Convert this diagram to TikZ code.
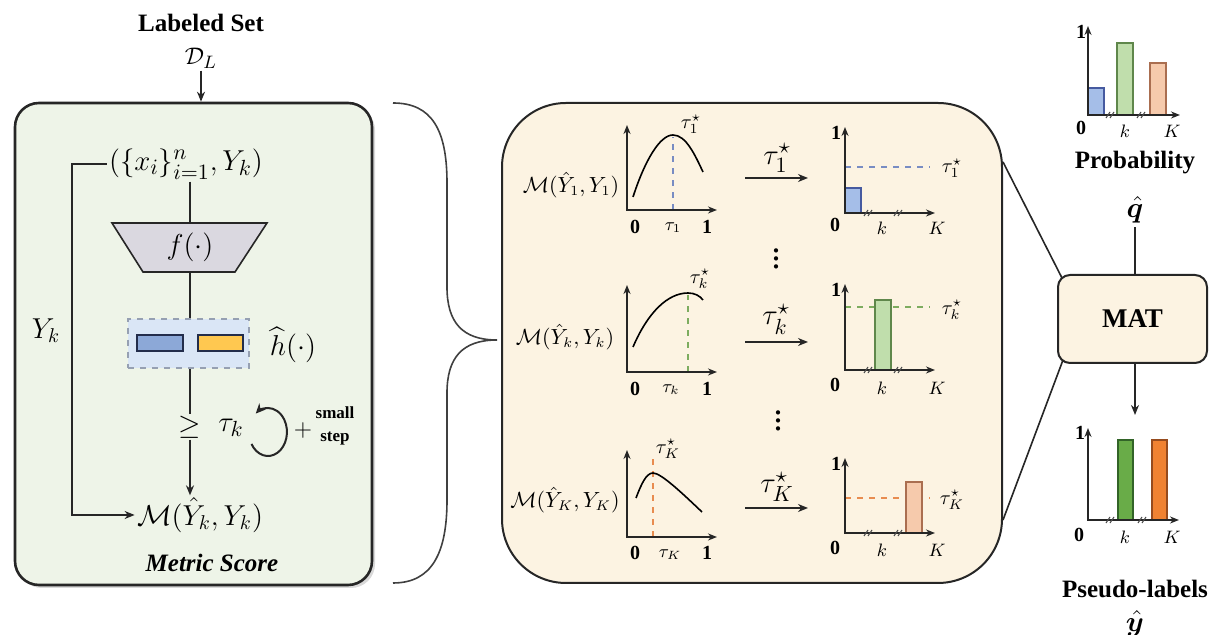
\documentclass[tikz,border=0pt]{standalone}
\usepackage{amsmath,amssymb,bm}
\usepackage{fontspec}
\setmainfont{Liberation Serif}
\usetikzlibrary{arrows.meta,shadows,calc}
\newcommand{\fsz}[1]{\fontsize{#1}{#1}\selectfont}
\definecolor{lgreen}{RGB}{238,244,232}
\definecolor{cream}{RGB}{252,243,226}
\definecolor{tgray}{RGB}{218,216,224}
\definecolor{hbfill}{RGB}{218,230,246}
\definecolor{hbdash}{RGB}{150,160,178}
\definecolor{navy}{RGB}{35,45,75}
\definecolor{rblue}{RGB}{140,168,215}
\definecolor{ryell}{RGB}{255,200,80}
\definecolor{bblue}{RGB}{165,190,232}
\definecolor{bbdk}{RGB}{70,90,160}
\definecolor{bgreen}{RGB}{192,222,172}
\definecolor{bgdk}{RGB}{95,135,75}
\definecolor{borng}{RGB}{246,202,172}
\definecolor{bodk}{RGB}{170,110,80}
\definecolor{dgreen}{RGB}{105,172,72}
\definecolor{dgdk}{RGB}{50,100,40}
\definecolor{dorng}{RGB}{240,130,50}
\definecolor{dodk}{RGB}{150,75,30}
\definecolor{dsh1}{RGB}{120,140,195}
\definecolor{dsh2}{RGB}{125,172,95}
\definecolor{dsh3}{RGB}{232,140,80}
\begin{document}
\begin{tikzpicture}[x=0.5pt,y=-0.5pt,
  conn/.style={line width=0.8pt, draw=black!85},
  arr/.style={conn, -{Stealth[length=5pt,width=4pt]}},
  axs/.style={line width=0.9pt, draw=black!85, {Stealth[length=4.5pt,width=3.5pt]}-{Stealth[length=4.5pt,width=3.5pt]}},
  title/.style={font=\fsz{12.5}\bfseries, inner sep=0pt},
  tkl/.style={font=\fsz{10}\bfseries, inner sep=0.5pt},
  kl/.style={font=\fsz{9}, inner sep=0.5pt},
  mlab/.style={font=\fsz{10.5}, inner sep=0.5pt},
  bigm/.style={font=\fsz{14}, inner sep=1pt},
  barst/.style={line width=0.7pt},
  dsh/.style={dashed, line width=0.7pt},
  brk/.pic={\draw[line width=0.5pt, black!70] (-4,3)--(0,-3) (0,3)--(4,-3);}
]
\useasboundingbox (0,0) rectangle (1217,635);

% ---------- left: labeled set ----------
\node[title] (lab) at (201,23) {Labeled Set};
\node[font=\fsz{13}, inner sep=1pt] (DL) at (201,58) {$\mathcal{D}_L$};
\node[draw=black!85, line width=1.3pt, fill=lgreen, rounded corners=12pt,
      minimum width=178.5pt, minimum height=241pt, inner sep=0,
      drop shadow={opacity=0.3, shadow xshift=1.5pt, shadow yshift=-1.5pt}] (LB) at (193.5,344) {};
\draw[arr] (DL.south) -- (DL.south |- LB.north);

\node[font=\fsz{15}, inner sep=1pt] (in) at (186,164) {$(\{x_i\}_{i=1}^{n},Y_k)$};
\coordinate (ft) at (190,223);
\coordinate (fb) at (190,272);
\draw[conn, fill=tgray] (112,223) -- (267,223) -- (235,272) -- (143,272) -- cycle;
\node[bigm] (f) at (190,247) {$f(\cdot)$};
\draw[conn] (in.south -| ft) -- (ft);

\node[draw=hbdash, dashed, line width=0.8pt, fill=hbfill, minimum width=60.5pt, minimum height=24.5pt, inner sep=0] (hbox) at (188.5,343.5) {};
\draw[conn] (fb) -- (fb |- hbox.north);
\node[draw=navy, fill=rblue, line width=0.9pt, minimum width=23pt, minimum height=8pt, inner sep=0] (hb1) at (160,343) {};
\node[draw=navy, fill=ryell, line width=0.9pt, minimum width=22.5pt, minimum height=8pt, inner sep=0] (hb2) at (220.5,343) {};
\node[bigm] (hh) at (293,345) {$\widehat{h}(\cdot)$};

\node[font=\fsz{15}, inner sep=0.5pt] (ge) at (190,427) {$\geq$};
\node[font=\fsz{15}, inner sep=0.5pt] (tk) at (231,428) {$\tau_k$};
\draw[conn] (ge |- hbox.south) -- (ge.north);
\node[bigm] (M) at (200,515) {$\mathcal{M}(\hat{Y}_k,Y_k)$};
\draw[arr] (ge.south) -- (ge.south |- M.north);
\coordinate (fbk) at (72,164);
\draw[arr] (in.west) -- (fbk) |- (M.west);
\draw[line width=1pt, draw=black!85, -{Stealth[length=5pt,width=4.5pt]}] (251.5,444) arc[start angle=150, end angle=-130, x radius=19, y radius=24];
\node[font=\fsz{13}, inner sep=0] (plus) at (303,431) {$+$};
\node[font=\fontsize{8.5}{11.5}\selectfont\bfseries, align=center, inner sep=0] (ss) at (335,426) {small\\step};
\node[bigm] (Yk) at (46,331) {$Y_k$};
\node[font=\fsz{12.5}\bfseries\itshape, inner sep=1pt] (ms) at (212,563) {Metric Score};

% ---------- brace ----------
\draw[line width=0.8pt, black!75] (393,103) .. controls (432,103) and (447,130) .. (447,183) -- (447,287) .. controls (447,322) and (462,340) .. (497,340) .. controls (462,340) and (447,358) .. (447,393) -- (447,500) .. controls (447,553) and (432,583) .. (393,583);

% ---------- middle box ----------
\node[draw=black!85, line width=1pt, fill=cream, rounded corners=32pt, minimum width=250pt, minimum height=240pt, inner sep=0] (MB) at (752,343) {};

% chart 1
\draw[dsh, dsh1] (673,210) -- (673,137);
\draw[line width=0.8pt] (633,197) .. controls (645,160) and (660,135) .. (673,135) .. controls (686,135) and (695,155) .. (703,172);
\draw[axs] (627,125) -- (627,210) -- (717,210);
\node[tkl] (c1z) at (635,227) {0};
\node[kl] (c1t) at (673,228) {$\tau_1$};
\node[tkl] (c1o) at (707,227) {1};
\node[font=\fsz{10}, inner sep=0pt] (c1s) at (691,124) {$\tau_1^{\star}$};
\node[mlab] (c1m) at (571,185) {$\mathcal{M}(\hat{Y}_1,Y_1)$};
\coordinate (a1s) at (745,178);
\coordinate (a1e) at (808,178);
\draw[arr] (a1s) -- (a1e);
\node[font=\fsz{15}, inner sep=0.5pt] (a1l) at (777,158) {$\tau_1^{\star}$};

% chart k
\draw[dsh, dsh2] (688,372) -- (688,295);
\draw[line width=0.8pt] (633,347) .. controls (648,312) and (668,293) .. (688,293) .. controls (695,293) and (700,296) .. (703,300);
\draw[axs] (627,285) -- (627,372) -- (717,372);
\node[tkl] (c2z) at (635,389) {0};
\node[kl] (c2t) at (671,390) {$\tau_k$};
\node[tkl] (c2o) at (707,389) {1};
\node[font=\fsz{10}, inner sep=0pt] (c2s) at (700,279) {$\tau_k^{\star}$};
\node[mlab] (c2m) at (565,337) {$\mathcal{M}(\hat{Y}_k,Y_k)$};
\coordinate (a2s) at (745,342);
\coordinate (a2e) at (808,342);
\draw[arr] (a2s) -- (a2e);
\node[font=\fsz{15}, inner sep=0.5pt] (a2l) at (776,319) {$\tau_k^{\star}$};

% chart K
\draw[dsh, dsh3] (653,537) -- (653,458);
\draw[line width=0.8pt] (636,498) .. controls (641,485) and (646,473) .. (653,473) .. controls (661,473) and (682,493) .. (702,512);
\draw[axs] (627,450) -- (627,537) -- (717,537);
\node[tkl] (c3z) at (635,553) {0};
\node[kl] (c3t) at (670,555) {$\tau_K$};
\node[tkl] (c3o) at (707,553) {1};
\node[font=\fsz{10}, inner sep=0pt] (c3s) at (668,449) {$\tau_K^{\star}$};
\node[mlab] (c3m) at (565,500) {$\mathcal{M}(\hat{Y}_K,Y_K)$};
\coordinate (a3s) at (745,508);
\coordinate (a3e) at (808,508);
\draw[arr] (a3s) -- (a3e);
\node[font=\fsz{15}, inner sep=0.5pt] (a3l) at (777,487) {$\tau_K^{\star}$};

\node[font=\fsz{18}\boldmath, inner sep=0] (vd1) at (776,253) {$\vdots$};
\node[font=\fsz{18}\boldmath, inner sep=0] (vd2) at (778,415) {$\vdots$};

% bar chart 1
\draw[dsh, dsh1] (845,167) -- (930,167);
\draw[barst, draw=bbdk, fill=bblue] (845,188) rectangle (861,213);
\draw[axs] (845,127) -- (845,213) -- (935,213);
\pic at (868,213) {brk};
\pic at (898,213) {brk};
\node[tkl] (b1o) at (836,133) {1};
\node[tkl] (b1z) at (835,225) {0};
\node[kl] (b1k) at (882,228) {$k$};
\node[kl] (b1K) at (937,228) {$K$};
\node[font=\fsz{10}, inner sep=0.5pt] (b1s) at (952,168) {$\tau_1^{\star}$};

% bar chart 2
\draw[dsh, dsh2] (845,307) -- (930,307);
\draw[barst, draw=bgdk, fill=bgreen] (875,300) rectangle (891,370);
\draw[axs] (845,284) -- (845,370) -- (935,370);
\pic at (868,370) {brk};
\pic at (898,370) {brk};
\node[tkl] (b2o) at (836,290) {1};
\node[tkl] (b2z) at (835,385) {0};
\node[kl] (b2k) at (882,388) {$k$};
\node[kl] (b2K) at (937,388) {$K$};
\node[font=\fsz{10}, inner sep=0.5pt] (b2s) at (952,310) {$\tau_k^{\star}$};

% bar chart 3
\draw[dsh, dsh3] (845,498) -- (930,498);
\draw[barst, draw=bodk, fill=borng] (906,482) rectangle (922,533);
\draw[axs] (845,458) -- (845,533) -- (935,533);
\pic at (868,533) {brk};
\pic at (898,533) {brk};
\node[tkl] (b3o) at (836,464) {1};
\node[tkl] (b3z) at (835,548) {0};
\node[kl] (b3k) at (882,550) {$k$};
\node[kl] (b3K) at (937,550) {$K$};
\node[font=\fsz{10}, inner sep=0.5pt] (b3s) at (952,500) {$\tau_K^{\star}$};

% ---------- right: MAT ----------
\node[draw=black!85, line width=1pt, fill=cream, rounded corners=6pt, minimum width=74.5pt, minimum height=44pt, inner sep=0, font=\fsz{13.5}\bfseries] (MAT) at (1132.5,319) {MAT};
\draw[conn] ([yshift=-30pt]MB.north east) -- ([xshift=2.5pt,yshift=-2pt]MAT.north west);
\draw[conn] ([yshift=32pt]MB.south east) -- ([xshift=3pt,yshift=2pt]MAT.south west);

\node[font=\fsz{15}, inner sep=0pt] (q) at (1135,210) {$\hat{\bm q}$};
\draw[conn] ([yshift=-2pt]q.south) -- (q.south |- MAT.north);
\node[title] (prob) at (1135,163) {Probability};

% top chart
\draw[barst, draw=bbdk, fill=bblue] (1088,88) rectangle (1104,115);
\draw[barst, draw=bgdk, fill=bgreen] (1117,43) rectangle (1133,115);
\draw[barst, draw=bodk, fill=borng] (1150,63) rectangle (1166,115);
\draw[axs] (1088,26) -- (1088,115) -- (1180,115);
\pic at (1110,115) {brk};
\pic at (1141,115) {brk};
\node[tkl] (t1) at (1081,32) {1};
\node[tkl] (t0) at (1081,128) {0};
\node[kl] (tk1) at (1125,131) {$k$};
\node[kl] (tK) at (1172,131) {$K$};

% bottom chart
\coordinate (pt) at (1135,415);
\draw[arr] (MAT.south -| pt) -- (pt);
\draw[barst, draw=dgdk, fill=dgreen] (1118,440) rectangle (1133,520);
\draw[barst, draw=dodk, fill=dorng] (1152,440) rectangle (1167,520);
\draw[axs] (1088,428) -- (1088,520) -- (1179,520);
\pic at (1110,520) {brk};
\pic at (1142,520) {brk};
\node[tkl] (p1) at (1080,433) {1};
\node[tkl] (p0) at (1079,535) {0};
\node[kl] (pk) at (1125,537) {$k$};
\node[kl] (pK) at (1172,537) {$K$};
\node[title] (pl) at (1135,589) {Pseudo-labels};
\node[font=\fsz{15}, inner sep=0pt] (y) at (1135,624) {$\hat{\bm y}$};
\end{tikzpicture}
\end{document}
